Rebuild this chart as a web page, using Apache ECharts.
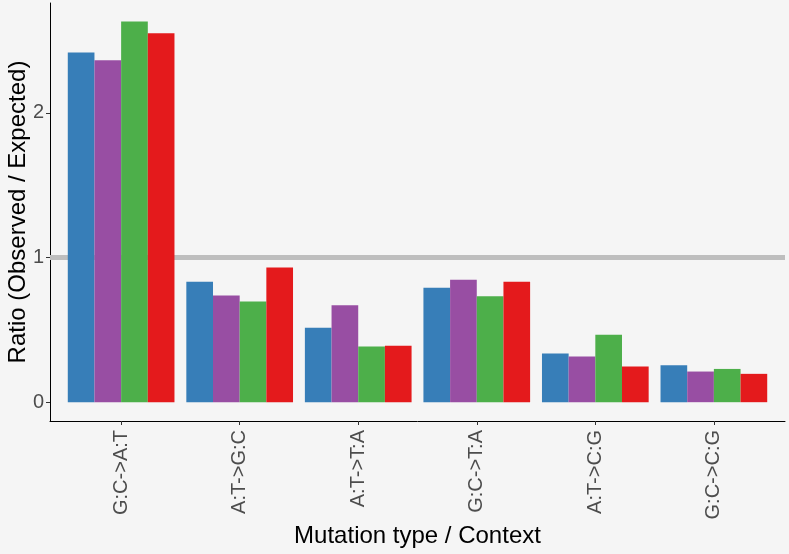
<!DOCTYPE html>
<html><head><meta charset="utf-8">
<script src="https://cdn.jsdelivr.net/npm/echarts@6/dist/echarts.min.js"></script>
<style>html,body{margin:0;padding:0;background:#F5F5F5}#c{width:789px;height:554px}</style>
</head><body><div id="c"></div>
<script>
const categories = ['G:C->A:T','A:T->G:C','A:T->T:A','G:C->T:A','A:T->C:G','G:C->C:G'];
const seriesNames = ['Group 1','Group 2','Group 3','Group 4'];
const blueVals   = [2.417, 0.833, 0.514, 0.791, 0.337, 0.256];
const purpleVals = [2.364, 0.738, 0.671, 0.846, 0.316, 0.212];
const greenVals  = [2.632, 0.696, 0.385, 0.733, 0.466, 0.230];
const redVals    = [2.551, 0.932, 0.390, 0.833, 0.247, 0.196];
const yTicks = [0, 1, 2];
const refValue = 1;
const colors = ['#377EB8','#984EA3','#4DAF4A','#E41A1C'];
const allVals = [blueVals, purpleVals, greenVals, redVals];
const xPos = categories.map((c,i)=>i+1);

const chart = echarts.init(document.getElementById('c'), null, {renderer:'canvas'});
const font = 'Liberation Sans, Arial, sans-serif';
const series = allVals.map((vals, k) => ({
  name: seriesNames[k], type: 'bar', z: 3,
  data: vals.map((v,i)=>[xPos[i], v]),
  itemStyle: {color: colors[k]},
  barGap: '0%', barCategoryGap: '10%',
  silent: true
}));
series.unshift({
  name: 'ref', type: 'line', z: 1, silent: true, symbol: 'none',
  data: [[0.4, refValue],[6.6, refValue]],
  lineStyle: {color: '#BEBEBE', width: 5}
});
chart.setOption({
  backgroundColor: '#F5F5F5',
  animation: false,
  grid: {left: 50, right: 4, top: 3, bottom: 133, containLabel: false, outerBoundsMode: 'none'},
  xAxis: {
    type: 'value', min: 0.4, max: 6.6,
    name: 'Mutation type / Context', nameLocation: 'middle', nameGap: 103, nameMoveOverlap: false,
    nameTextStyle: {fontFamily: font, fontSize: 24, color: '#000'},
    axisLine: {show: true, onZero: false, lineStyle: {color: '#000', width: 1}},
    axisTick: {show: true, length: 4, lineStyle: {color: '#333'}, customValues: xPos},
    axisLabel: {rotate: 90, fontFamily: font, fontSize: 20, color: '#4D4D4D', margin: 9,
      customValues: xPos, formatter: v => categories[Math.round(v)-1] || ''},
    splitLine: {show: false}
  },
  yAxis: {
    type: 'value', min: -0.13, max: 2.76,
    name: 'Ratio (Observed / Expected)', nameLocation: 'middle', nameGap: 20, nameMoveOverlap: false,
    nameTextStyle: {fontFamily: font, fontSize: 24, color: '#000'},
    axisLine: {show: true, onZero: false, lineStyle: {color: '#000', width: 1}},
    axisTick: {show: true, length: 4, lineStyle: {color: '#333'}, customValues: yTicks},
    axisLabel: {fontFamily: font, fontSize: 20, color: '#4D4D4D', margin: 6, customValues: yTicks},
    splitLine: {show: false}
  },
  series: series
});
</script></body></html>
